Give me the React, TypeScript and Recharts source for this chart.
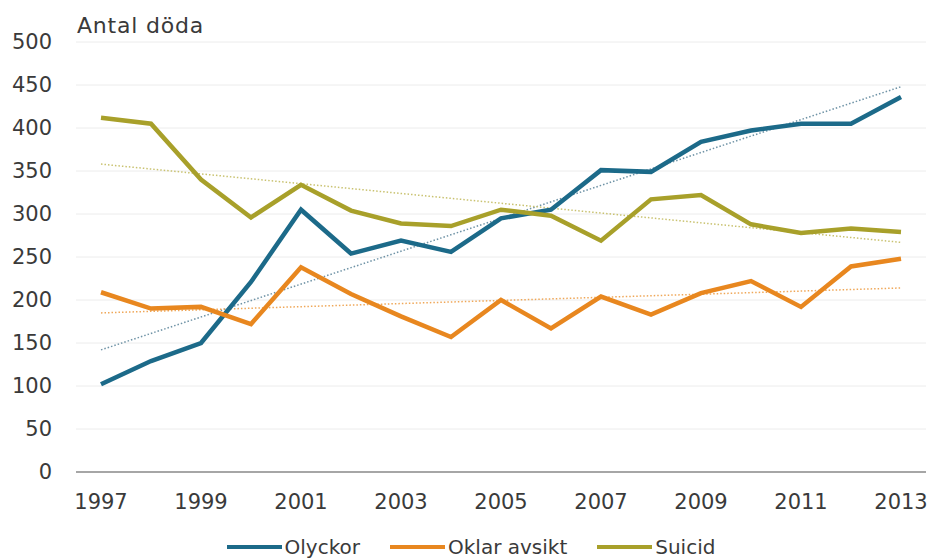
import { CartesianGrid, Legend, Line, LineChart, ReferenceLine, XAxis, YAxis } from "recharts";

const years = ["1997", "1998", "1999", "2000", "2001", "2002", "2003", "2004", "2005", "2006", "2007", "2008", "2009", "2010", "2011", "2012", "2013"];
const olyckor = [102, 129, 150, 221, 305, 254, 269, 256, 295, 305, 351, 349, 384, 397, 405, 405, 436];
const oklarAvsikt = [209, 190, 192, 172, 238, 207, 181, 157, 200, 167, 204, 183, 208, 222, 192, 239, 248];
const suicid = [412, 405, 340, 296, 334, 304, 289, 286, 305, 298, 269, 317, 322, 288, 278, 283, 279];
const seriesNames = ["Olyckor", "Oklar avsikt", "Suicid"];

// linear trend lines: [value at 1997, value at 2013]
const olyckorTrend = [142, 448];
const oklarTrend = [185, 214];
const suicidTrend = [358, 267];

const yTicks = [0, 50, 100, 150, 200, 250, 300, 350, 400, 450, 500];

const data = years.map((year, i) => ({
  year,
  olyckor: olyckor[i],
  oklar: oklarAvsikt[i],
  suicid: suicid[i],
}));

const FONT = "'DejaVu Sans', sans-serif";
const TEXT = "#3a3a3a";
const BLUE = "#1c6a89";
const ORANGE = "#e8871f";
const OLIVE = "#a8a02a";

function renderLegend(props: any) {
  const items = [...(props.payload || [])].sort(
    (a: any, b: any) => seriesNames.indexOf(a.value) - seriesNames.indexOf(b.value)
  );
  return (
    <div style={{ display: "flex", justifyContent: "center", alignItems: "center", height: 38, paddingTop: 12, boxSizing: "border-box" }}>
      {items.map((item: any) => (
        <div key={item.value} style={{ display: "flex", alignItems: "center", marginLeft: 15, marginRight: 15 }}>
          <div style={{ width: 55, height: 4, background: item.color, marginRight: 3 }} />
          <span style={{ fontFamily: FONT, fontSize: 20, color: TEXT, lineHeight: "22px" }}>{item.value}</span>
        </div>
      ))}
    </div>
  );
}

export default function App() {
  const first = years[0];
  const last = years[years.length - 1];
  return (
    <div style={{ position: "absolute", left: 0, top: 0, width: 928, height: 560, background: "#fff", overflow: "hidden" }}>
      <div style={{ position: "absolute", left: 77, top: 13, fontFamily: FONT, fontSize: 22, letterSpacing: 0.8, color: TEXT }}>Antal döda</div>
      <LineChart width={928} height={560} data={data} margin={{ top: 42, right: 2, bottom: 0, left: 16 }}>
        <CartesianGrid vertical={false} stroke="#ececec" />
        <XAxis
          dataKey="year"
          interval={1}
          padding={{ left: 25, right: 25 }}
          height={50}
          tickLine={false}
          tickSize={0}
          tickMargin={22}
          axisLine={{ stroke: "#a6a6a6", strokeWidth: 2 }}
          tick={{ fontFamily: FONT, fontSize: 21, fill: TEXT }}
        />
        <YAxis
          domain={[0, 500]}
          ticks={yTicks}
          width={60}
          axisLine={false}
          tickLine={false}
          tickSize={0}
          tickMargin={24}
          tick={{ fontFamily: FONT, fontSize: 21, fill: TEXT }}
        />
        <Legend verticalAlign="bottom" height={38} content={renderLegend} />
        <ReferenceLine segment={[{ x: first, y: olyckorTrend[0] }, { x: last, y: olyckorTrend[1] }]} stroke="#6f93a6" strokeWidth={1.5} strokeDasharray="1.5 2" />
        <ReferenceLine segment={[{ x: first, y: oklarTrend[0] }, { x: last, y: oklarTrend[1] }]} stroke="#efa758" strokeWidth={1.5} strokeDasharray="1.5 2" />
        <ReferenceLine segment={[{ x: first, y: suicidTrend[0] }, { x: last, y: suicidTrend[1] }]} stroke="#c9c270" strokeWidth={1.5} strokeDasharray="1.5 2" />
        <Line type="linear" dataKey="olyckor" name={seriesNames[0]} stroke={BLUE} strokeWidth={4.5} dot={false} isAnimationActive={false} />
        <Line type="linear" dataKey="oklar" name={seriesNames[1]} stroke={ORANGE} strokeWidth={4.5} dot={false} isAnimationActive={false} />
        <Line type="linear" dataKey="suicid" name={seriesNames[2]} stroke={OLIVE} strokeWidth={4.5} dot={false} isAnimationActive={false} />
      </LineChart>
    </div>
  );
}
